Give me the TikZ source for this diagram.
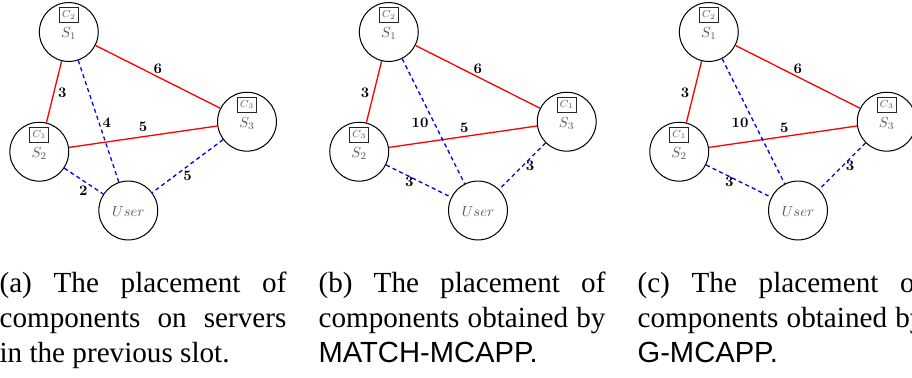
\documentclass[tikz,border=0pt]{standalone}
\usepackage{fontspec}
\usepackage{graphicx}
\newfontfamily\capserif{Liberation Serif}
\newfontfamily\capsans{Liberation Sans}
\newcommand\shrink[1]{\scalebox{0.5}{#1}}
\newlength\capw
\setlength\capw{98.4pt}
\newcommand\fullline[1]{\makebox[\capw][s]{#1}}
% a server: circle, component tag above, server name below
\newcommand\server[5]{%
  \node[server] (#1) at (#2,#3) {};
  \path (#1.center) ++(0,5.5) node[tag, anchor=base] (#1-name) {\shrink{$#5$}};
  \path (#1.center) ++(0,-17) node[comp] (#1-comp) {\shrink{$\scriptstyle #4$}};
}
\newcommand\user[3]{%
  \node[server] (#1) at (#2,#3) {};
  \path (#1.center) ++(0,5.5) node[tag, anchor=base] (#1-name) {\shrink{$User$}};
}
\tikzset{
  x=0.343pt, y=-0.343pt,
  server/.style={circle, draw=black, line width=0.35pt, minimum size=20.2pt, inner sep=0pt},
  tag/.style={text=black!65, inner sep=0pt},
  comp/.style={draw=black!85, line width=0.3pt, minimum width=6.5pt, minimum height=5.1pt, inner sep=0pt, text=black!65},
  link/.style={red, line width=0.45pt},
  access/.style={blue, line width=0.45pt, dash pattern=on 1.4pt off 1.1pt},
  cost/.style={inner sep=0pt, text=black},
  caption/.style={anchor=base west, inner sep=0pt, font=\capserif\fontsize{10}{12}\selectfont},
}
\begin{document}
\begin{tikzpicture}
\useasboundingbox (0,0) rectangle (912,377);
\clip (0,0) rectangle (912,377);

% (a) placement in the previous slot
\server{S1a}{68.8}{32}{C_2}{S_1}
\server{S2a}{39.3}{151.7}{C_1}{S_2}
\server{S3a}{247}{121.7}{C_3}{S_3}
\user{Ua}{128.3}{210.5}
\draw[link] (S1a) -- node[cost, shift={(8.3,0.5)}] (a12) {\shrink{\textbf{3}}} (S2a);
\draw[link] (S1a) -- node[cost, shift={(0,-8.5)}] (a13) {\shrink{\textbf{6}}} (S3a);
\draw[link] (S2a) -- node[cost, shift={(0,-9.4)}] (a23) {\shrink{\textbf{5}}} (S3a);
\draw[access] (S1a) -- node[cost, shift={(8.2,1.5)}] (a1u) {\shrink{\textbf{4}}} (Ua);
\draw[access] (S2a) -- node[cost, shift={(-0.5,9.6)}] (a2u) {\shrink{\textbf{2}}} (Ua);
\draw[access] (S3a) -- node[cost, shift={(0,9.6)}] (a3u) {\shrink{\textbf{5}}} (Ua);

% (b) placement by MATCH-MCAPP
\server{S1b}{388.8}{32}{C_2}{S_1}
\server{S2b}{359.2}{151.7}{C_3}{S_2}
\server{S3b}{566.7}{121.7}{C_1}{S_3}
\user{Ub}{478}{210.5}
\draw[link] (S1b) -- node[cost, shift={(-9,0.5)}] (b12) {\shrink{\textbf{3}}} (S2b);
\draw[link] (S1b) -- node[cost, shift={(0,-8.5)}] (b13) {\shrink{\textbf{6}}} (S3b);
\draw[link] (S2b) -- node[cost, shift={(1.3,-9)}] (b23) {\shrink{\textbf{5}}} (S3b);
\draw[access] (S1b) -- node[cost, shift={(-13.4,1.5)}] (b1u) {\shrink{\textbf{10}}} (Ub);
\draw[access] (S2b) -- node[cost, shift={(-9.3,0.6)}] (b2u) {\shrink{\textbf{3}}} (Ub);
\draw[access] (S3b) -- node[cost, shift={(7.6,-0.4)}] (b3u) {\shrink{\textbf{3}}} (Ub);

% (c) placement by G-MCAPP
\server{S1c}{708.8}{32}{C_2}{S_1}
\server{S2c}{679.2}{151.7}{C_1}{S_2}
\server{S3c}{886.7}{121.7}{C_3}{S_3}
\user{Uc}{798}{210.5}
\draw[link] (S1c) -- node[cost, shift={(-9,0.5)}] (c12) {\shrink{\textbf{3}}} (S2c);
\draw[link] (S1c) -- node[cost, shift={(0,-8.5)}] (c13) {\shrink{\textbf{6}}} (S3c);
\draw[link] (S2c) -- node[cost, shift={(1.3,-9)}] (c23) {\shrink{\textbf{5}}} (S3c);
\draw[access] (S1c) -- node[cost, shift={(-13.4,1.5)}] (c1u) {\shrink{\textbf{10}}} (Uc);
\draw[access] (S2c) -- node[cost, shift={(-9.3,0.6)}] (c2u) {\shrink{\textbf{3}}} (Uc);
\draw[access] (S3c) -- node[cost, shift={(7.6,-0.4)}] (c3u) {\shrink{\textbf{3}}} (Uc);

% sub-captions
\node[caption] (capa) at (-1,292.5) {\parbox[t]{\capw}{\fullline{(a) The placement of}\\\fullline{components on servers}\\in the previous slot.}};
\node[caption] (capb) at (318,292.5) {\parbox[t]{\capw}{\fullline{(b) The placement of}\\\fullline{components obtained by}\\{\capsans MATCH-MCAPP.}}};
\node[caption] (capc) at (637,292.5) {\parbox[t]{\capw}{\fullline{(c) The placement of}\\\fullline{components obtained by}\\{\capsans G-MCAPP.}}};
\end{tikzpicture}
\end{document}
